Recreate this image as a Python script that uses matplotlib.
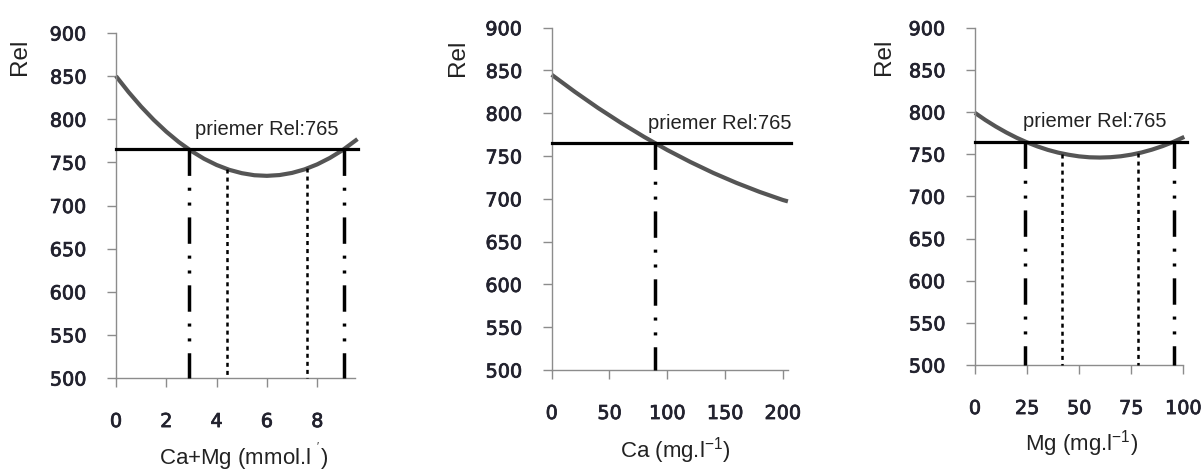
import matplotlib
matplotlib.use('Agg')
import matplotlib.pyplot as plt
import matplotlib.patheffects as pe

# dash lengths given in points, not in line widths
plt.rcParams['lines.scale_dashes'] = False
plt.rcParams['mathtext.default'] = 'regular'

# mean Rel of the primer (horizontal reference line)
mean_rel = 765

# Ca+Mg panel, values
cm_x = [0, 0.5, 1, 1.5, 2, 2.5, 3, 3.5, 4, 4.5, 5, 5.5, 6, 6.5, 7, 7.5, 8, 8.5, 9, 9.6]
cm_rel = [850.0, 831.5, 814.6, 799.3, 785.6, 773.5, 763.1, 754.2, 747.0, 741.4,
          737.5, 735.1, 734.4, 735.3, 737.8, 741.9, 747.7, 755.1, 764.0, 777.0]
cm_cross = [2.9, 9.05]
cm_inner = [4.4, 7.6]
cm_inner_rel = [742.5, 743.0]

# Ca panel
ca_x = [0, 20, 40, 60, 80, 100, 120, 140, 160, 180, 200, 204.5]
ca_rel = [845.0, 825.1, 806.3, 788.8, 772.4, 757.1, 743.1, 730.2, 718.6, 708.1, 698.7, 697.0]
ca_cross = [89.5]

# Mg panel
mg_x = [0, 5, 10, 15, 20, 25, 30, 35, 40, 45, 50, 55, 60, 65, 70, 75, 80, 85, 90, 95, 100.5]
mg_rel = [799.0, 790.5, 782.8, 775.8, 769.5, 764.0, 759.2, 755.1, 751.8, 749.3, 747.4,
          746.3, 746.0, 746.4, 747.5, 749.4, 752.0, 755.4, 759.5, 764.3, 770.5]
mg_cross = [24, 95.7]
mg_inner = [42, 78.5]
mg_inner_rel = [750.5, 751.0]

panels = [
    dict(rect=[0.0965, 0.1957, 0.1988, 0.7341], x=cm_x, y=cm_rel, cross=cm_cross,
         inner=cm_inner, inner_y=cm_inner_rel, xlim=(0, 9.5), xticks=[0, 2, 4, 6, 8],
         hline_end=9.63, txt_x=3.14, xlabel="Ca+Mg (mmol.l $^{'}$)",
         xl_pos=(0.533, -0.249), yl_pos=(-0.40, 0.930)),
    dict(rect=[0.459, 0.2128, 0.1966, 0.7283], x=ca_x, y=ca_rel, cross=ca_cross,
         inner=[], inner_y=[], xlim=(0, 204.6), xticks=[0, 50, 100, 150, 200],
         hline_end=206.9, txt_x=83.6, xlabel="Ca (mg.l$^{-1}$)",
         xl_pos=(0.524, -0.257), yl_pos=(-0.397, 0.913)),
    dict(rect=[0.8111, 0.2234, 0.1733, 0.7177], x=mg_x, y=mg_rel, cross=mg_cross,
         inner=mg_inner, inner_y=mg_inner_rel, xlim=(0, 100), xticks=[0, 25, 50, 75, 100],
         hline_end=101.7, txt_x=23.2, xlabel="Mg (mg.l$^{-1}$)",
         xl_pos=(0.512, -0.252), yl_pos=(-0.437, 0.913)),
]

fig = plt.figure(figsize=(12.02, 4.70), dpi=100)
txt_font = 'Liberation Sans'
axis_grey = '#8c8c8c'
tick_col = '#22222e'
heavier = [pe.withStroke(linewidth=0.55, foreground=tick_col)]

for p in panels:
    ax = fig.add_axes(p['rect'])
    ax.set_xlim(*p['xlim'])
    ax.set_ylim(500, 900)
    ax.set_xticks(p['xticks'])
    ax.set_yticks(range(500, 901, 50))
    for s in ['top', 'right']:
        ax.spines[s].set_visible(False)
    for s in ['left', 'bottom']:
        ax.spines[s].set_color(axis_grey)
        ax.spines[s].set_linewidth(1.0)
    ax.tick_params(direction='out', length=6.5, width=1.0, color=axis_grey,
                   labelsize=13.8, labelcolor=tick_col)
    ax.tick_params(axis='y', pad=15)
    ax.tick_params(axis='x', pad=18)
    for lab in ax.get_xticklabels() + ax.get_yticklabels():
        lab.set_path_effects(heavier)

    # mean line
    ax.plot([0, p['hline_end']], [mean_rel, mean_rel], color='black', lw=2.3,
            clip_on=False, zorder=3)
    # response curve
    ax.plot(p['x'], p['y'], color='#555555', lw=3.0, clip_on=False, zorder=2,
            solid_capstyle='butt')
    # dash-dot-dot lines where the curve crosses the mean
    for xc in p['cross']:
        ax.plot([xc, xc], [mean_rel, 500], color='black', lw=2.5,
                dashes=(19, 8.5, 2.2, 8.5, 2.2, 8.5), dash_capstyle='butt',
                clip_on=False, zorder=3)
    # dotted inner lines
    for xi, yi in zip(p['inner'], p['inner_y']):
        ax.plot([xi, xi], [yi, 500], color='black', lw=1.8,
                dashes=(2.9, 2.9), dash_capstyle='butt', clip_on=False, zorder=3)

    ax.text(p['txt_x'], 782, 'priemer Rel:765', family=txt_font, fontsize=14.5,
            color='#222222', ha='left', va='baseline')
    ax.text(p['xl_pos'][0], p['xl_pos'][1], p['xlabel'], transform=ax.transAxes,
            family=txt_font, fontsize=16, color='#222222', ha='center', va='baseline')
    ax.text(p['yl_pos'][0], p['yl_pos'][1], 'Rel', transform=ax.transAxes,
            family=txt_font, fontsize=17.5, color='#222222', rotation=90,
            ha='center', va='center')

fig.savefig('out.png', dpi=100)
